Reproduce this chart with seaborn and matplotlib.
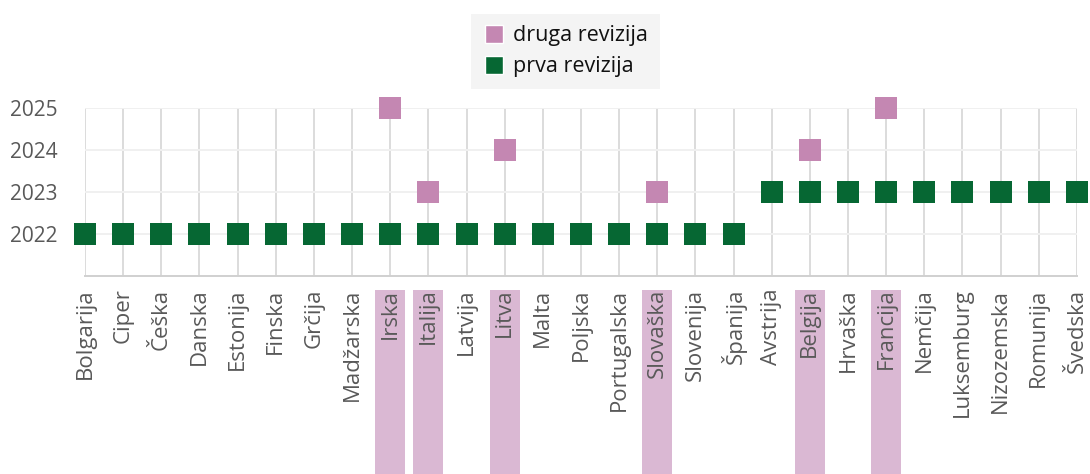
import pandas as pd
import matplotlib.pyplot as plt
import seaborn as sns
from matplotlib.patches import Rectangle
from matplotlib.lines import Line2D

# Države (vrstni red na osi x)
countries = ["Bolgarija", "Ciper", "Češka", "Danska", "Estonija", "Finska", "Grčija",
             "Madžarska", "Irska", "Italija", "Latvija", "Litva", "Malta", "Poljska",
             "Portugalska", "Slovaška", "Slovenija", "Španija", "Avstrija", "Belgija",
             "Hrvaška", "Francija", "Nemčija", "Luksemburg", "Nizozemska", "Romunija",
             "Švedska"]
prva_leto = [2022] * 18 + [2023] * 9

druga_drzave = ["Irska", "Italija", "Litva", "Slovaška", "Belgija", "Francija"]
druga_leto = [2025, 2023, 2024, 2023, 2024, 2025]

years = [2022, 2023, 2024, 2025]

GREEN = "#066733"
PINK = "#C487B2"
HILITE = "#DAB8D3"
TXT = "#595959"

df = pd.concat([
    pd.DataFrame({"drzava": countries, "leto": prva_leto, "revizija": "prva revizija"}),
    pd.DataFrame({"drzava": druga_drzave, "leto": druga_leto, "revizija": "druga revizija"}),
], ignore_index=True)
df["x"] = df["drzava"].map({c: i for i, c in enumerate(countries)})

sns.set_theme(style="white")
plt.rcParams["font.family"] = ["Open Sans", "DejaVu Sans"]

fig = plt.figure(figsize=(10.9, 4.74), dpi=100)
ax = fig.add_axes([0.078, 0.4177, 0.91, 0.3544])

sns.scatterplot(data=df, x="x", y="leto", hue="revizija", marker="s", s=250,
                palette={"prva revizija": GREEN, "druga revizija": PINK},
                linewidth=0, ax=ax, legend=False, clip_on=False, zorder=3)

ax.set_xlim(0, len(countries) - 1)
ax.set_ylim(2021, 2025)
ax.set_xticks(range(len(countries)))
ax.set_xticklabels(countries, rotation=90, va="top", ha="center")
ax.set_yticks(years)
ax.set_yticklabels([str(y) for y in years])
ax.tick_params(axis="x", length=0, pad=9, labelsize=16, labelcolor=TXT)
ax.tick_params(axis="y", length=0, pad=20, labelsize=15, labelcolor=TXT)
ax.set_xlabel("")
ax.set_ylabel("")

ax.grid(False)
for i in range(len(countries)):
    ax.axvline(i, color="#DCDCDC", lw=1.4, zorder=1)
for y in years:
    ax.axhline(y, color="#F0F0F0", lw=1.4, zorder=1)
for side in ["top", "left", "right"]:
    ax.spines[side].set_visible(False)
ax.spines["bottom"].set_color("#D0D0D0")
ax.spines["bottom"].set_linewidth(1.4)

# poudarjene države z drugo revizijo
for c in druga_drzave:
    i = countries.index(c)
    ax.add_patch(Rectangle((i - 0.39, -1.2), 0.78, 1.115, transform=ax.get_xaxis_transform(),
                           facecolor=HILITE, edgecolor="none", clip_on=False, zorder=0))

handles = [Line2D([], [], marker="s", ls="", color=PINK, markersize=13, markeredgecolor="white", markeredgewidth=1),
           Line2D([], [], marker="s", ls="", color=GREEN, markersize=13, markeredgecolor="white", markeredgewidth=1)]
leg = fig.legend(handles, ["druga revizija", "prva revizija"], loc="center",
                 bbox_to_anchor=(0.519, 0.892), frameon=True, fontsize=15.5,
                 handletextpad=0.4, labelspacing=0.45, borderpad=0.55, fancybox=False,
                 handlelength=1.0, labelcolor="#111111")
leg.get_frame().set_facecolor("#F2F2F2")
leg.get_frame().set_edgecolor("none")

plt.savefig("out.png", dpi=100)
